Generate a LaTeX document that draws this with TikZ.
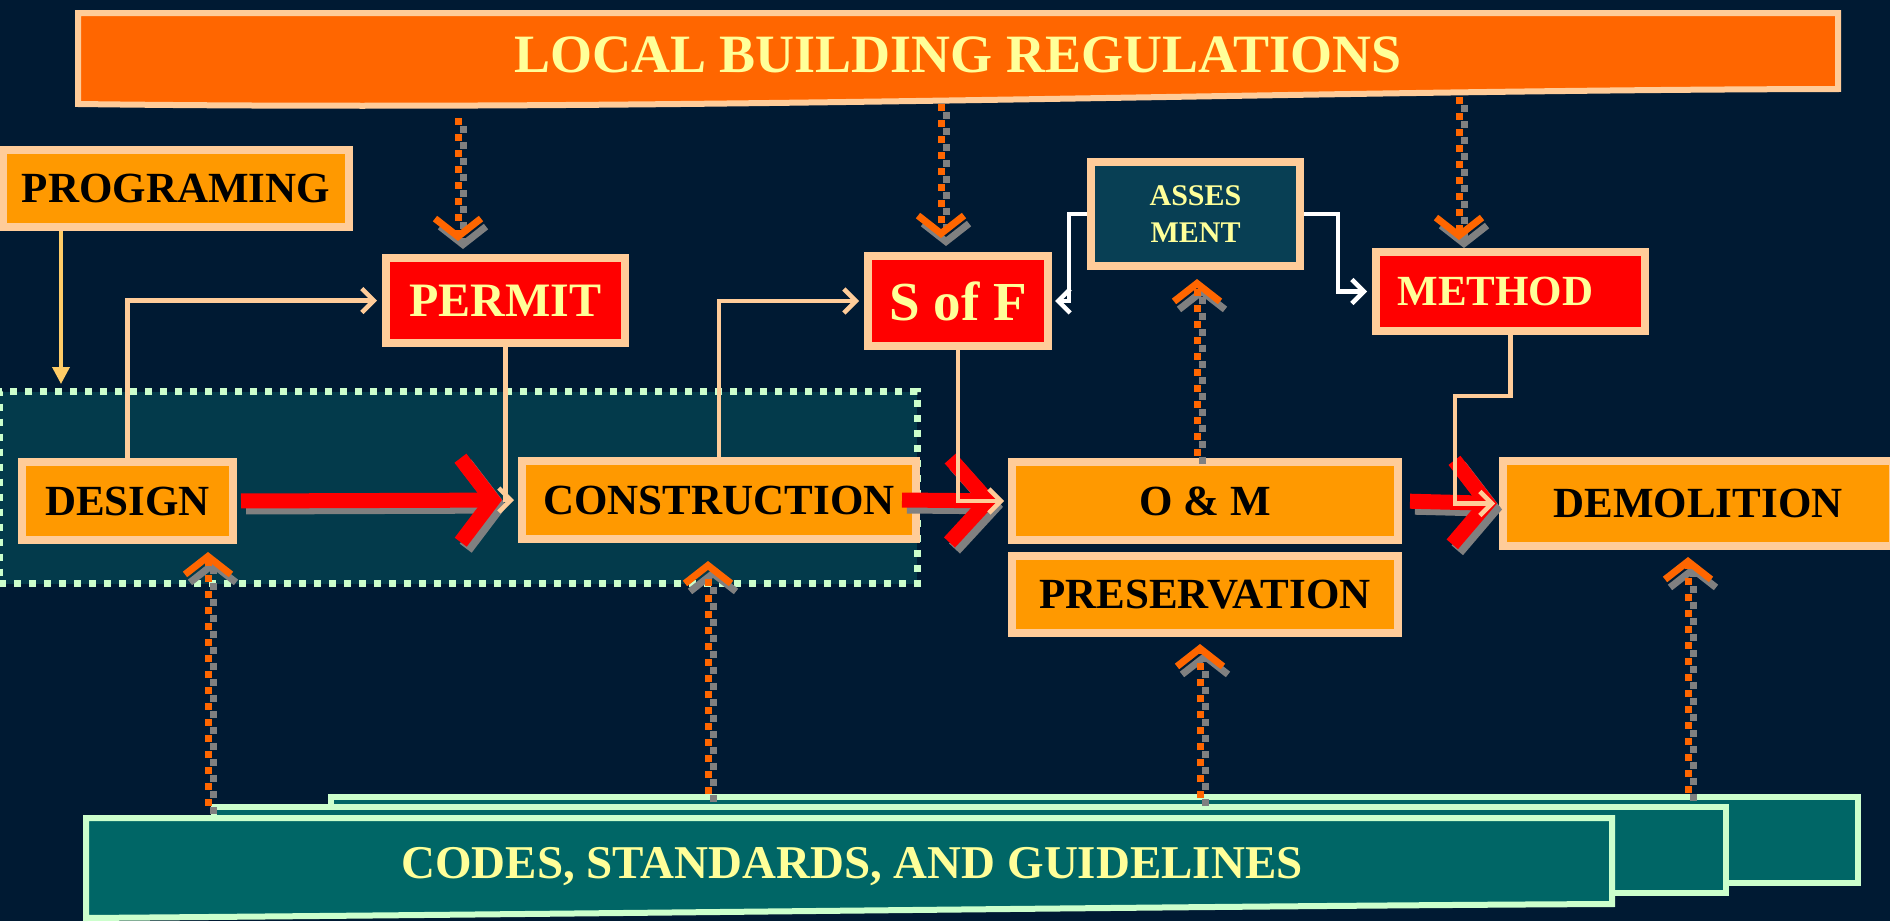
\documentclass[tikz,border=0pt]{standalone}
\usepackage{fontspec}
\setmainfont{Liberation Serif}
\usetikzlibrary{arrows.meta,calc}
\definecolor{bgnavy}{HTML}{001A33}
\definecolor{regfill}{HTML}{033A4B}
\definecolor{assfill}{HTML}{083F54}
\definecolor{peach}{HTML}{FFCC99}
\definecolor{mint}{HTML}{CCFFCC}
\definecolor{boxorange}{HTML}{FF9900}
\definecolor{banorange}{HTML}{FF6600}
\definecolor{ltyellow}{HTML}{FFFF99}
\definecolor{codesteal}{HTML}{006666}
\definecolor{progline}{HTML}{FFCC66}
\definecolor{shadowgray}{HTML}{808080}
\newcommand{\myfs}[2]{\fontsize{#1}{#2}\selectfont\bfseries}
\tikzset{
  box/.style={rectangle, draw=peach, line width=8pt, fill=boxorange, inner sep=0pt,
    text=black, text depth=0pt, font=\myfs{43}{50}},
  redbox/.style={box, fill=red, text=ltyellow},
  regionbox/.style={rectangle, draw=mint, line width=7pt, dash pattern=on 7pt off 8pt,
    fill=regfill, inner sep=0pt},
  banner/.style={draw=peach, fill=banorange, line width=6pt},
  codesbanner/.style={draw=mint, fill=codesteal, line width=6pt},
  bigarrow/.style={line width=15pt, -{Straight Barb[length=32pt,width=84pt]}},
  bigred/.style={bigarrow, draw=red},
  bigshadow/.style={bigarrow, draw=shadowgray, transform canvas={shift={(5,6)}}},
  conn/.style={draw=peach, line width=4.5pt, -{Straight Barb[length=12pt,width=24pt]}},
  wconn/.style={conn, draw=white},
  dotline/.style={line width=7pt, dash pattern=on 7pt off 9pt,
    -{Straight Barb[length=18pt,width=46pt]}},
  dotor/.style={dotline, draw=banorange},
  dotsh/.style={dotline, draw=shadowgray, transform canvas={shift={(5,8)}}},
}
\begin{document}
\begin{tikzpicture}[x=1pt,y=-1pt]
\fill[bgnavy] (0,0) rectangle (1890,921);
\useasboundingbox (0,0) rectangle (1890,921);

% dotted region
\node[regionbox, minimum width=918pt, minimum height=192pt] (region) at (458,487.5) {};

% top banner
\draw[banner] (78,13) -- (1838,13) -- (1838,89) .. controls (1300,90) and (700,112) .. (78,104) -- cycle;
\node[font=\myfs{54}{60}, text=ltyellow, text depth=0pt] (LOCAL) at (958,55) {LOCAL BUILDING REGULATIONS};

% bottom banners
\draw[codesbanner] (331,797) -- (1858,797) -- (1858,883) -- (331,883) -- cycle;
\draw[codesbanner] (214,807) -- (1726,807) -- (1726,893) -- (214,893) -- cycle;
\draw[codesbanner] (86,818) -- (1612,818) -- (1612,904) .. controls (1200,906) and (600,914) .. (86,918) -- cycle;
\node[font=\myfs{47}{54}, text=ltyellow, text depth=0pt] (CODES) at (852,863) {CODES, STANDARDS, AND GUIDELINES};

% boxes
\node[box, minimum width=346pt, minimum height=77pt] (PROGRAMING) at (176,188.5) {PROGRAMING};
\node[redbox, minimum width=239pt, minimum height=85pt, font=\myfs{48}{54}] (PERMIT) at (505.5,300.5) {PERMIT};
\node[redbox, minimum width=180pt, minimum height=90pt, font=\myfs{55}{60}] (SofF) at (958,301) {S of F};
\node[box, fill=assfill, text=ltyellow, align=center, minimum width=209pt, minimum height=104pt,
  font=\myfs{30}{37}] (ASSES) at (1195.5,214) {ASSES\\MENT};
\node[redbox, minimum width=269pt, minimum height=79pt] (METHOD) at (1510.5,291.5) {METHOD\hspace*{30pt}};
\node[box, minimum width=211pt, minimum height=78pt] (DESIGN) at (127.5,501) {DESIGN};
\node[box, minimum width=394pt, minimum height=78pt] (CONSTRUCTION) at (719,500) {CONSTRUCTION};
\node[box, minimum width=386pt, minimum height=78pt] (OM) at (1205,501) {O \& M};
\node[box, minimum width=386pt, minimum height=77pt] (PRESERVATION) at (1205,594.5) {PRESERVATION};
\node[box, minimum width=390pt, minimum height=85pt] (DEMOLITION) at (1698,503.5) {DEMOLITION};

% helper coordinates
\coordinate (px) at (61,0);
\coordinate (a1) at (1069,0);
\coordinate (a2) at (1338,0);
\coordinate (m2) at (1455,396);
\coordinate (x4) at (1197,0);
\coordinate (t1) at (458,118);
\coordinate (t2) at (941,104);
\coordinate (t3) at (1459,97);
\coordinate (b1) at (208,806);
\coordinate (b2) at (708,794);
\coordinate (b3) at (1200,798);
\coordinate (b4) at (1688,793);

% dotted regulation arrows (shadow, then orange)
\draw[dotsh, shorten >=13pt] (t1) -- (t1 |- PERMIT.north);
\draw[dotor, shorten >=13pt] (t1) -- (t1 |- PERMIT.north);
\draw[dotsh, shorten >=14pt] (t2) -- (t2 |- SofF.north);
\draw[dotor, shorten >=14pt] (t2) -- (t2 |- SofF.north);
\draw[dotsh, shorten >=8pt] (t3) -- (t3 |- METHOD.north);
\draw[dotor, shorten >=8pt] (t3) -- (t3 |- METHOD.north);
\draw[dotsh, shorten <=2pt, shorten >=9pt] (OM.north -| x4) -- (ASSES.south -| x4);
\draw[dotor, shorten <=2pt, shorten >=9pt] (OM.north -| x4) -- (ASSES.south -| x4);
\draw[dotsh, shorten >=8pt] (b1) -- (b1 |- DESIGN.south);
\draw[dotor, shorten >=8pt] (b1) -- (b1 |- DESIGN.south);
\draw[dotsh, shorten >=18pt] (b2) -- (b2 |- CONSTRUCTION.south);
\draw[dotor, shorten >=18pt] (b2) -- (b2 |- CONSTRUCTION.south);
\draw[dotsh, shorten >=7pt] (b3) -- (b3 |- PRESERVATION.south);
\draw[dotor, shorten >=7pt] (b3) -- (b3 |- PRESERVATION.south);
\draw[dotsh, shorten >=7pt] (b4) -- (b4 |- DEMOLITION.south);
\draw[dotor, shorten >=7pt] (b4) -- (b4 |- DEMOLITION.south);

% big red process arrows
\draw[bigshadow, shorten <=4pt, shorten >=16pt] (DESIGN.east) -- (CONSTRUCTION.west);
\draw[bigred, shorten <=4pt, shorten >=16pt] (DESIGN.east) -- (CONSTRUCTION.west);
\draw[bigshadow, -{Straight Barb[length=38pt,width=84pt]}, shorten >=10pt] ($(CONSTRUCTION.east)+(-18,0)$) -- (OM.west);
\draw[bigred, -{Straight Barb[length=38pt,width=84pt]}, shorten >=10pt] ($(CONSTRUCTION.east)+(-18,0)$) -- (OM.west);
\draw[bigshadow, -{Straight Barb[length=34pt,width=84pt]}, shorten <=8pt, shorten >=2pt] (OM.east) -- (DEMOLITION.west);
\draw[bigred, -{Straight Barb[length=34pt,width=84pt]}, shorten <=8pt, shorten >=2pt] (OM.east) -- (DEMOLITION.west);

% thin connectors
\draw[draw=progline, line width=3.5pt, -{Triangle[length=17pt,width=17pt]}, shorten >=4pt]
  (PROGRAMING.south -| px) -- (region.north -| px);
\draw[conn, shorten >=5pt] (DESIGN.north) |- (PERMIT.west);
\draw[conn, shorten >=4pt] (PERMIT.south) |- (CONSTRUCTION.west);
\draw[conn, shorten >=5pt] (CONSTRUCTION.north) |- (SofF.west);
\draw[conn, shorten >=4pt] (SofF.south) |- (OM.west);
\draw[conn, shorten >=4pt] (METHOD.south) |- (m2) |- (DEMOLITION.west);
\draw[wconn, shorten >=3pt] (ASSES.west) -| (a1 |- SofF.east) -- (SofF.east);
\draw[wconn, shorten >=5pt] (ASSES.east) -| (a2 |- METHOD.west) -- (METHOD.west);
\end{tikzpicture}
\end{document}
